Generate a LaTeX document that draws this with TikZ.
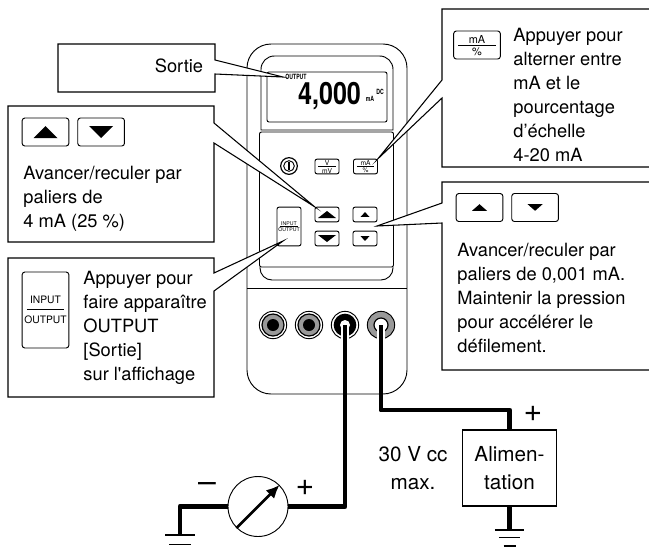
\documentclass[tikz,border=0pt]{standalone}
\usepackage{fontspec}
\setmainfont[Ligatures=TeXOff]{TeX Gyre Heros}
\usetikzlibrary{positioning, calc, arrows.meta}

% small filled triangles inside a key: node, half width, half height
\newcommand{\triup}[3]{\fill[line join=round] ([shift={(-#2,#3)}]#1.center) -- ([shift={(#2,#3)}]#1.center) -- ([shift={(0,-#3)}]#1.center) -- cycle;}
\newcommand{\tridown}[3]{\fill[line join=round] ([shift={(-#2,-#3)}]#1.center) -- ([shift={(#2,-#3)}]#1.center) -- ([shift={(0,#3)}]#1.center) -- cycle;}

\begin{document}
\begin{tikzpicture}[x=0.75pt, y=-0.75pt, line width=0.7pt,
  key/.style = {draw, rounded corners=1.5pt, minimum width=18pt, minimum height=11pt, inner sep=0pt},
  bigkey/.style = {draw, rounded corners=2pt, minimum width=35pt, minimum height=21pt, inner sep=0pt},
  note/.style = {draw, fill=white, line width=0.8pt, miter limit=20},
  txt/.style = {anchor=north west, inner sep=0pt, align=left, font=\fontsize{13.7}{18}\selectfont},
  big/.style = {inner sep=0pt, align=center, font=\fontsize{15.5}{20.5}\selectfont},
  sign/.style = {inner sep=0pt, font=\fontsize{24}{24}\selectfont},
  lcd/.style = {inner sep=0pt, font=\fontsize{5.4}{6}\selectfont\bfseries, xscale=0.72},
  tiny/.style = {inner sep=0pt, font=\fontsize{5}{5}\selectfont},
  jack/.style = {draw, circle, minimum size=20.5pt, inner sep=0pt},
  wire/.style = {line width=3.7pt, line join=round},
  halo/.style = {white, line width=5.4pt},
  gnd/.style = {line width=0.8pt}]

\useasboundingbox (0,0) rectangle (649,551);

% meter body
\node[draw, rounded corners=18pt, minimum width=120pt, minimum height=262.5pt] (body) at (327,219) {};
\draw (261,130) [rounded corners=10pt] -- (261,56) -- (393,56) [sharp corners] -- (393,130) -- cycle;
\node[draw, rounded corners=1.5pt, minimum width=90pt, minimum height=37.5pt] (lcdbox) at (327,97) {};

% keypad
\draw[rounded corners=1.5pt] (259.5,267) -- (259.5,132) -- (393.5,132) -- (393.5,267) -- cycle;
\draw (260,267) [rounded corners=9pt] -- (260,280) -- (393,280) -- (393,267);
\draw (body.west |- 0,288) -- (body.east |- 0,288);

% display texts
\node[inner sep=0pt, font=\fontsize{23}{23}\selectfont\bfseries, xscale=0.82] (reading) at (329.5,96) {4,000};
\node[lcd] (l_ma) at (370,99) {mA};
\node[lcd] (l_dc) at (380,92) {DC};

% keys on the meter
\node[draw, circle, line width=0.9pt, minimum size=12.5pt, inner sep=0pt] (power) at (289,166) {};
\node[draw, circle, minimum size=8pt, inner sep=0pt] (power_in) at (power) {};
\draw[line width=1.1pt] ([yshift=2.7pt]power.center) -- ([yshift=-2.7pt]power.center);
\node[key] (k_v) at (327,166.5) {};
\node[tiny, above=0.1pt of k_v.center] (k_v_a) {V};
\node[tiny, below=0.9pt of k_v.center] (k_v_b) {mV};
\draw[line width=0.35pt] ([xshift=-6.5pt]k_v.center) -- ([xshift=6.5pt]k_v.center);
\node[key] (k_ma) at (365.5,166.5) {};
\node[tiny, above=0.1pt of k_ma.center] (k_ma_a) {mA};
\node[tiny, below=0.9pt of k_ma.center] (k_ma_b) {\%};
\draw[line width=0.35pt] ([xshift=-6.5pt]k_ma.center) -- ([xshift=6.5pt]k_ma.center);
\node[key] (up_a) at (327,214.5) {};
\node[key] (dn_a) at (327,238.5) {};
\node[key] (up_b) at (365,214.5) {};
\node[key] (dn_b) at (365,238.5) {};
\node[draw, rounded corners=1.5pt, minimum width=18pt, minimum height=29pt, inner sep=0pt] (k_io) at (289,226.5) {};
\node[inner sep=0pt, font=\fontsize{3.9}{4}\selectfont, above=0.6pt of k_io.center] (k_io_a) {INPUT};
\node[inner sep=0pt, font=\fontsize{3.9}{4}\selectfont, below=0.6pt of k_io.center] (k_io_b) {OUTPUT};
\draw[line width=0.35pt] ([xshift=-7pt]k_io.center) -- ([xshift=7pt]k_io.center);
\triup{up_a}{9}{3.5}
\tridown{dn_a}{9}{3.5}
\triup{up_b}{4.5}{2.3}
\tridown{dn_b}{4.5}{2.3}

% tips of the callouts
\coordinate (tip_out) at (283,77);
\coordinate (tip_io) at (283,241);
\coordinate (tip_fine) at (377,226);

% Sortie
\draw[note] (58,44) -- (215,44) -- (215,60) -- (tip_out) -- (215,74) -- (215,92) -- (58,92) -- cycle;
\node[lcd, anchor=west] (l_out) at (285,77) {OUTPUT};
\node[inner sep=0pt, font=\fontsize{13.7}{18}\selectfont] (t_out) at (179,66) {Sortie};

% coarse steps
\draw[note] (8,106) -- (214,106) -- (214,123) -- (up_a.north west) -- (214,143) -- (214,242) -- (8,242) -- cycle;
\node[bigkey] (n_up) at (45.5,132) {};
\node[bigkey, right=6pt of n_up] (n_dn) {};
\triup{n_up}{12}{6}
\tridown{n_dn}{12}{6}
\node[txt] (t_coarse) at (23,166) {Avancer/reculer par\\paliers de\\4 mA (25 \%)};

% output key
\draw[note] (8,258) -- (214,258) -- (214,273) -- (tip_io) -- (214,291) -- (214,397) -- (8,397) -- cycle;
\node[draw, rounded corners=2pt, minimum width=35pt, minimum height=57pt, inner sep=0pt] (n_io) at (45.5,310) {};
\node[inner sep=0pt, font=\fontsize{7.7}{8}\selectfont, above=4.7pt of n_io.center] (n_io_a) {INPUT};
\node[inner sep=0pt, font=\fontsize{7.7}{8}\selectfont, below=3.8pt of n_io.center] (n_io_b) {OUTPUT};
\draw[line width=0.4pt] ([xshift=-14pt,yshift=0.8pt]n_io.center) -- ([xshift=14pt,yshift=0.8pt]n_io.center);
\node[txt] (t_io) at (83,271) {Appuyer pour\\faire apparaître\\OUTPUT\\{[Sortie]}\\sur l'affichage};

% mA / percent
\draw[note] (649,9) -- (442,9) -- (442,80) -- (k_ma.north east) -- (442,98) -- (442,167) -- (649,167);
\node[bigkey] (n_ma) at (477,45) {};
\node[inner sep=0pt, font=\fontsize{8.2}{8}\selectfont, above=1pt of n_ma.center] (n_ma_a) {mA};
\node[inner sep=0pt, font=\fontsize{8.2}{8}\selectfont, below=1.4pt of n_ma.center] (n_ma_b) {\%};
\draw[line width=0.4pt] ([xshift=-14pt]n_ma.center) -- ([xshift=14pt]n_ma.center);
\node[txt] (t_ma) at (513,28) {Appuyer pour\\alterner entre\\mA et le\\pourcentage\\d’échelle\\4-20 mA};

% fine steps
\draw[note] (649,182) -- (442,182) -- (442,203) -- (tip_fine) -- (442,223) -- (442,370) -- (649,370);
\node[bigkey] (f_up) at (479.5,207.5) {};
\node[bigkey, right=6pt of f_up] (f_dn) {};
\triup{f_up}{7.5}{3.3}
\tridown{f_dn}{7.5}{3.3}
\node[txt] (t_fine) at (457,243) {Avancer/reculer par\\paliers de 0,001 mA.\\Maintenir la pression\\pour accélérer le\\défilement.};

% jacks
\node[jack] (jack_a) at (273,325) {};
\node[jack, line width=0.9pt, fill=black!40, minimum size=16.5pt] at (jack_a) {};
\node[circle, fill=black, minimum size=9pt, inner sep=0pt] at (jack_a) {};
\node[jack] (jack_b) at (309,325) {};
\node[jack, line width=0.9pt, fill=black!40, minimum size=16.5pt] at (jack_b) {};
\node[circle, fill=black, minimum size=9pt, inner sep=0pt] at (jack_b) {};
\node[jack] (jack_c) at (345,325) {};
\node[circle, fill=black, minimum size=17pt, inner sep=0pt] at (jack_c) {};
\node[circle, fill=white, minimum size=7.5pt, inner sep=0pt] at (jack_c) {};
\node[jack, fill=black!40] (jack_d) at (381,325) {};
\node[circle, draw, line width=0.9pt, fill=white, minimum size=10.5pt, inner sep=0pt] at (jack_d) {};
\draw[halo] (jack_c.center) -- (jack_c.south);
\draw[halo] (jack_d.center) -- (jack_d.south);

% gauge
\node[draw, circle, minimum size=45pt, inner sep=0pt] (gauge) at (258,506.5) {};
\draw[-{Latex[length=10pt,width=9pt]}, line width=1.9pt] (gauge.south west) -- (gauge.north east);
\node[sign] (minus) at (207,487) {–};
\node[sign] (plus_a) at (305,488) {+};

% supply
\node[draw, line width=0.8pt, minimum width=70.5pt, minimum height=57pt, big] (supply) at (509.5,468) {Alimen-\\tation};
\node[sign] (plus_b) at (533,414) {+};
\node[big, left=10.5pt of supply] (t_max) {30 V cc\\max.};

% ground points
\coordinate (gnd_a) at (180,535);
\coordinate (gnd_b) at (509.5,530);

%--- jack -> gauge -> ground
\draw[wire] (jack_c.center) |- (gauge.east);
\draw[wire] (gauge.west) -| (gnd_a);
\draw[gnd] ([xshift=-11pt]gnd_a) -- ([xshift=11pt]gnd_a);
\draw[gnd] ([xshift=-8pt,yshift=-6.8pt]gnd_a) -- ([xshift=8pt,yshift=-6.8pt]gnd_a);

%--- jack -> supply -> ground
\draw[wire] (jack_d.center) |- (supply.north |- 0,410) -- (supply.north);
\draw[wire] (supply.south) -- (gnd_b);
\draw[gnd] ([xshift=-11pt]gnd_b) -- ([xshift=11pt]gnd_b);
\draw[gnd] ([xshift=-8pt,yshift=-5.5pt]gnd_b) -- ([xshift=8pt,yshift=-5.5pt]gnd_b);
\draw[gnd] ([xshift=-4.5pt,yshift=-12pt]gnd_b) -- ([xshift=4.5pt,yshift=-12pt]gnd_b);

\end{tikzpicture}
\end{document}
